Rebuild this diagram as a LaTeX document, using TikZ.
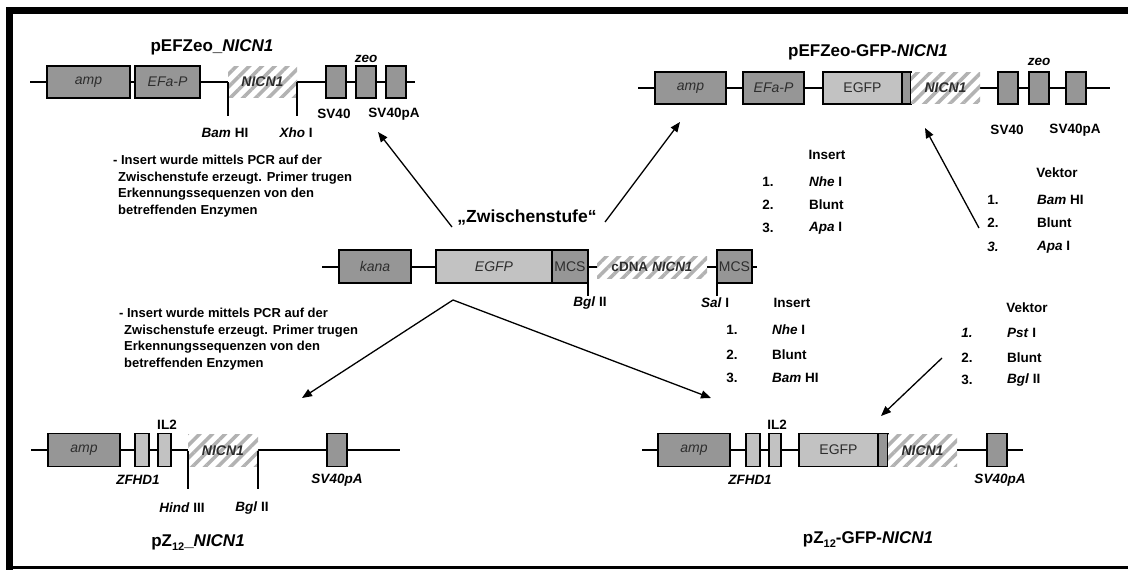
\documentclass[tikz,border=0pt]{standalone}
\usepackage{fontspec}
\setmainfont{Liberation Sans}
\usetikzlibrary{patterns.meta,arrows.meta}
\definecolor{boxdark}{RGB}{150,150,150}
\definecolor{boxlight}{RGB}{194,194,194}
\definecolor{hatchc}{RGB}{178,178,178}
\definecolor{boxtxt}{RGB}{45,45,45}
\begin{document}
\begin{tikzpicture}[x=1pt,y=-1pt,
  dna/.style={line width=1.3pt},
  gb/.style={draw, line width=1.2pt, inner sep=0pt, outer sep=0pt, font=\fontsize{14}{16}\selectfont, text=boxtxt},
  dark/.style={gb, fill=boxdark},
  light/.style={gb, fill=boxlight},
  hatch/.style={inner sep=0pt, outer sep=0pt, preaction={fill=white}, pattern={Lines[angle=45,distance=9pt,line width=3.5pt]}, pattern color=hatchc, font=\fontsize{14}{16}\selectfont\bfseries\itshape, text=boxtxt},
  lab/.style={font=\fontsize{13.5}{16}\selectfont\bfseries, inner sep=0pt},
  ttl/.style={font=\fontsize{17}{20}\selectfont\bfseries, inner sep=0pt},
  blk/.style={font=\fontsize{13}{16.5}\selectfont\bfseries, inner sep=0pt, align=left, anchor=north west},
  item/.style={lab, anchor=west},
  arr/.style={line width=1.3pt, -{Triangle[length=10pt,width=8pt]}}
]
\useasboundingbox (0,0) rectangle (1128,570);
% frame
\draw[line width=7pt] (9.5,570) -- (9.5,10) -- (1128,10);
\draw[line width=2.5pt] (8,567.5) -- (1128,567.5);

% ---------------- top-left: pEFZeo_NICN1
\node[ttl] (t1) at (212,47) {pEFZeo\_\textit{NICN1}};
\coordinate (tlL) at (30,82); \coordinate (tlR) at (415,82);
\draw[dna] (tlL) -- (tlR);
\node[dark, minimum width=83pt, minimum height=32pt] (tlamp) at (88.5,82) {\itshape amp};
\node[dark, minimum width=65pt, minimum height=32pt] (tlefa) at (167.5,82) {\itshape EFa-P};
\node[hatch, minimum width=69pt, minimum height=31pt] (tlnic) at (262.5,82) {NICN1};
\node[dark, minimum width=20pt, minimum height=32pt] (tlz1) at (336,82) {};
\node[dark, minimum width=20pt, minimum height=32pt] (tlz2) at (366,82) {};
\node[dark, minimum width=20pt, minimum height=32pt] (tlz3) at (396,82) {};
\draw[dna] (tlnic.west) -- ++(0,34);
\draw[dna] (tlnic.east) -- ++(0,34);
\node[lab] (tlzeo) at (366,59) {\itshape zeo};
\node[lab] (tlsv) at (334,114) {SV40};
\node[lab] (tlsvpa) at (394,114) {SV40pA};
\node[lab] (tlbam) at (225,133) {\textit{Bam} HI};
\node[lab] (tlxho) at (296,133) {\textit{Xho} I};
\node[blk] (txt1) at (113,155) {- Insert wurde mittels PCR auf der\\\hspace*{5pt}Zwischenstufe erzeugt. Primer trugen\\\hspace*{5pt}Erkennungssequenzen von den\\\hspace*{5pt}betreffenden Enzymen};

% ---------------- top-right: pEFZeo-GFP-NICN1
\node[ttl] (t2) at (868,52) {pEFZeo-GFP-\textit{NICN1}};
\coordinate (trL) at (638,88); \coordinate (trR) at (1110,88);
\draw[dna] (trL) -- (trR);
\node[dark, minimum width=71pt, minimum height=32pt] (tramp) at (690.5,88) {\itshape amp};
\node[dark, minimum width=61pt, minimum height=32pt] (trefa) at (773.5,88) {\itshape EFa-P};
\node[light, minimum width=79pt, minimum height=32pt] (tregfp) at (862.5,88) {EGFP};
\node[dark, minimum width=9pt, minimum height=32pt] (trstrip) at (906.5,88) {};
\node[hatch, minimum width=69pt, minimum height=31pt] (trnic) at (945.5,88) {NICN1};
\node[dark, minimum width=20pt, minimum height=32pt] (trz1) at (1008,88) {};
\node[dark, minimum width=20pt, minimum height=32pt] (trz2) at (1039,88) {};
\node[dark, minimum width=20pt, minimum height=32pt] (trz3) at (1076,88) {};
\node[lab] (trzeo) at (1039,62) {\itshape zeo};
\node[lab] (trsv) at (1007,130) {SV40};
\node[lab] (trsvpa) at (1075,130) {SV40pA};

% lists top
\node[lab] (ins1) at (827,155) {Insert};
\node[lab] (ins1n1) at (768,182) {1.}; \node[item] (ins1i1) at (809,182) {\textit{Nhe} I};
\node[lab] (ins1n2) at (768,205) {2.}; \node[item] (ins1i2) at (809,205) {Blunt};
\node[lab] (ins1n3) at (768,228) {3.}; \node[item] (ins1i3) at (809,228) {\textit{Apa} I};
\node[lab] (vek1) at (1057,173) {Vektor};
\node[lab] (vek1n1) at (993,200) {1.}; \node[item] (vek1i1) at (1037,200) {\textit{Bam} HI};
\node[lab] (vek1n2) at (993,223) {2.}; \node[item] (vek1i2) at (1037,223) {Blunt};
\node[lab] (vek1n3) at (993,247) {\itshape 3.}; \node[item] (vek1i3) at (1037,247) {\textit{Apa} I};

% ---------------- middle: Zwischenstufe
\node[font=\fontsize{17.5}{21}\selectfont\bfseries, inner sep=0pt] (zw) at (527,218) {„Zwischenstufe“};
\coordinate (mL) at (322,267); \coordinate (mR) at (757,267);
\draw[dna] (mL) -- (mR);
\node[dark, minimum width=72pt, minimum height=33pt] (mkana) at (375,266.5) {\itshape kana};
\node[light, minimum width=116pt, minimum height=33pt] (megfp) at (494,266.5) {\itshape EGFP};
\node[dark, minimum width=36pt, minimum height=33pt] (mmcs1) at (570,266.5) {MCS};
\node[hatch, minimum width=110pt, minimum height=22pt, font=\fontsize{13.5}{16}\selectfont\bfseries] (mnic) at (652,267) {cDNA \textit{NICN1}};
\node[dark, minimum width=35pt, minimum height=33pt] (mmcs2) at (734.5,266.5) {MCS};
\draw[dna] (mmcs1.south east) -- ++(0,13);
\draw[dna] (mmcs2.south west) -- ++(0,13);
\node[lab] (mbgl) at (590,303) {\textit{Bgl} II};
\node[lab] (msal) at (715,303) {\textit{Sal} I};

% lists bottom
\node[lab] (ins2) at (792,303) {Insert};
\node[lab] (ins2n1) at (732,330) {1.}; \node[item] (ins2i1) at (772,330) {\textit{Nhe} I};
\node[lab] (ins2n2) at (732,355) {2.}; \node[item] (ins2i2) at (772,355) {Blunt};
\node[lab] (ins2n3) at (732,378) {3.}; \node[item] (ins2i3) at (772,378) {\textit{Bam} HI};
\node[lab] (vek2) at (1027,308) {Vektor};
\node[lab] (vek2n1) at (967,333) {\itshape 1.}; \node[item] (vek2i1) at (1007,333) {\textit{Pst} I};
\node[lab] (vek2n2) at (967,358) {2.}; \node[item] (vek2i2) at (1007,358) {Blunt};
\node[lab] (vek2n3) at (967,380) {3.}; \node[item] (vek2i3) at (1007,380) {\textit{Bgl} II};

\node[blk] (txt2) at (119,308) {- Insert wurde mittels PCR auf der\\\hspace*{5pt}Zwischenstufe erzeugt. Primer trugen\\\hspace*{5pt}Erkennungssequenzen von den\\\hspace*{5pt}betreffenden Enzymen};

% ---------------- bottom-left: pZ12_NICN1
\coordinate (blL) at (31,450); \coordinate (blR) at (400,450);
\draw[dna] (blL) -- (blR);
\node[dark, minimum width=72pt, minimum height=33pt] (blamp) at (84,450) {\itshape amp};
\node[light, minimum width=14pt, minimum height=33pt] (blzf) at (142,450) {};
\node[light, minimum width=13pt, minimum height=33pt] (blil) at (164.5,450) {};
\node[hatch, minimum width=70pt, minimum height=32pt] (blnic) at (223,450.5) {NICN1};
\node[dark, minimum width=20pt, minimum height=33pt] (blsv) at (337,450) {};
\draw[dna] (blnic.west) -- ++(0,38);
\draw[dna] (blnic.east) -- ++(0,38);
\node[lab] (blill) at (167,425) {IL2};
\node[lab] (blzfl) at (138,480) {\itshape ZFHD1};
\node[lab] (blsvl) at (337,480) {\itshape SV40pA};
\node[lab] (blhind) at (182,508) {\textit{Hind} III};
\node[lab] (blbgl) at (252,508) {\textit{Bgl} II};
\node[ttl] (t3) at (198,543) {pZ\raisebox{-4pt}{\fontsize{11}{13}\selectfont 12}\_\textit{NICN1}};

% ---------------- bottom-right: pZ12-GFP-NICN1
\coordinate (brL) at (642,450); \coordinate (brR) at (1023,450);
\draw[dna] (brL) -- (brR);
\node[dark, minimum width=72pt, minimum height=33pt] (bramp) at (694,450) {\itshape amp};
\node[light, minimum width=14pt, minimum height=33pt] (brzf) at (753,450) {};
\node[light, minimum width=12pt, minimum height=33pt] (bril) at (775,450) {};
\node[light, minimum width=79pt, minimum height=33pt] (bregfp) at (838.5,450) {EGFP};
\node[dark, minimum width=10pt, minimum height=33pt] (brstrip) at (883,450) {};
\node[hatch, minimum width=69pt, minimum height=32pt] (brnic) at (922.5,450.5) {NICN1};
\node[dark, minimum width=20pt, minimum height=33pt] (brsv) at (997,450) {};
\node[lab] (brill) at (777,425) {IL2};
\node[lab] (brzfl) at (750,480) {\itshape ZFHD1};
\node[lab] (brsvl) at (1000,480) {\itshape SV40pA};
\node[ttl] (t4) at (868,540) {pZ\raisebox{-4pt}{\fontsize{11}{13}\selectfont 12}-GFP-\textit{NICN1}};

% ---------------- arrows
\coordinate (a1s) at (452,227); \coordinate (a1e) at (378,132);
\coordinate (a2s) at (605,222); \coordinate (a2e) at (680,122);
\coordinate (a3s) at (979,228); \coordinate (a3e) at (925,128);
\coordinate (a45s) at (453,300); \coordinate (a4e) at (302,398);
\coordinate (a5e) at (711,398);
\coordinate (a6s) at (942,358); \coordinate (a6e) at (881,416);
\draw[arr] (a1s) -- (a1e);
\draw[arr] (a2s) -- (a2e);
\draw[arr] (a3s) -- (a3e);
\draw[arr] (a45s) -- (a4e);
\draw[arr] (a45s) -- (a5e);
\draw[arr] (a6s) -- (a6e);
\end{tikzpicture}
\end{document}
